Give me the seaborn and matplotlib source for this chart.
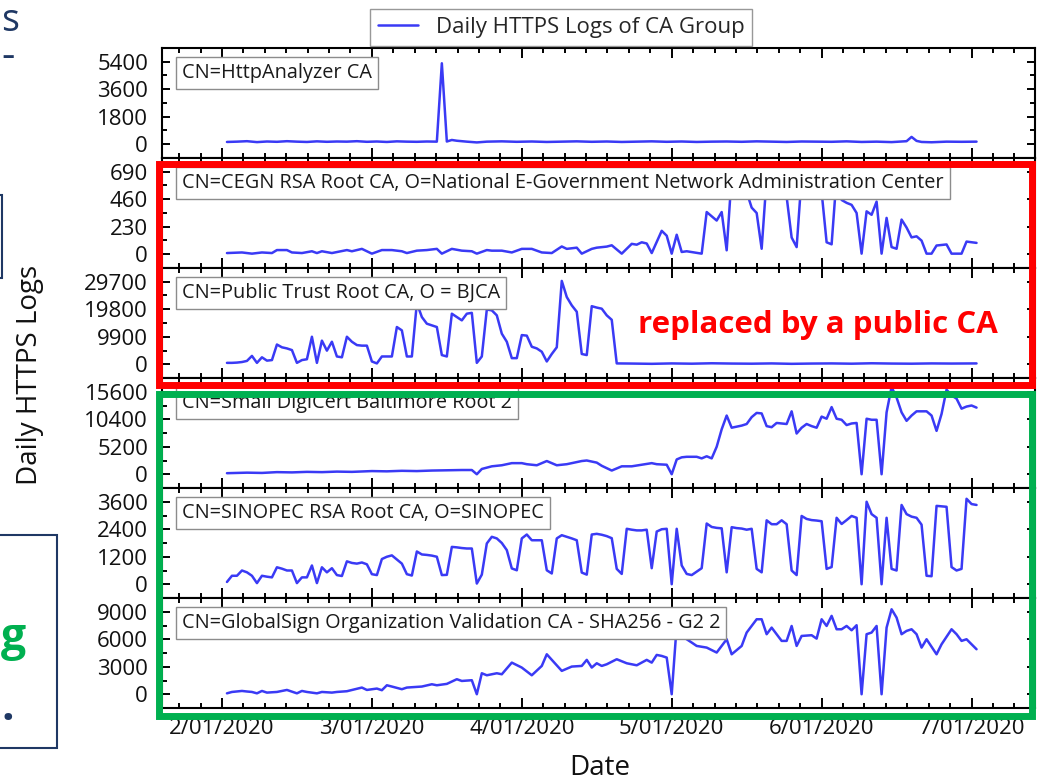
import matplotlib
matplotlib.use("Agg")
import matplotlib.pyplot as plt
import seaborn as sns
from matplotlib.ticker import MultipleLocator
from matplotlib.patches import Rectangle
from matplotlib.lines import Line2D

# ---------------- data ----------------
tick_days = [0, 30, 60, 90, 120, 150]
tick_labels = ["2/01/2020", "3/01/2020", "4/01/2020", "5/01/2020", "6/01/2020", "7/01/2020"]
legend_label = "Daily HTTPS Logs of CA Group"

ca_names = [
    "CN=HttpAnalyzer CA",
    "CN=CEGN RSA Root CA, O=National E-Government Network Administration Center",
    "CN=Public Trust Root CA, O = BJCA",
    "CN=Small DigiCert Baltimore Root 2",
    "CN=SINOPEC RSA Root CA, O=SINOPEC",
    "CN=GlobalSign Organization Validation CA - SHA256 - G2 2",
]
y_steps = [1800, 230, 9900, 5200, 1200, 3000]

http_days = [1, 3, 5, 7, 9, 11, 13, 15, 17, 19,
             21, 23, 25, 27, 29, 31, 33, 35, 37, 39,
             41, 43, 44, 45, 46, 47, 49, 51, 53, 56,
             59, 62, 65, 68, 71, 74, 77, 80, 83, 86,
             89, 92, 95, 98, 101, 104, 107, 110, 113, 116,
             119, 122, 125, 128, 131, 134, 136, 137, 138, 139,
             140, 142, 145, 148, 151]
http_vals = [150, 170, 200, 140, 180, 160, 200, 170, 150, 190,
             160, 180, 170, 200, 160, 180, 150, 190, 170, 160,
             180, 170, 5300, 180, 280, 230, 170, 120, 170, 190,
             160, 180, 150, 170, 190, 160, 180, 150, 170, 190,
             160, 180, 150, 170, 180, 160, 190, 170, 150, 180,
             170, 160, 190, 150, 170, 140, 180, 200, 480, 220,
             150, 130, 170, 160, 170]

cegn_days = [1, 4, 6, 8, 10, 11, 13, 14, 16, 18,
             19, 20, 22, 25, 26, 28, 30, 32, 34, 36,
             37, 39, 41, 43, 44, 46, 48, 50, 51, 53,
             54, 56, 58, 60, 62, 64, 66, 68, 69, 71,
             72, 74, 75, 77, 78, 80, 82, 83, 84, 85,
             86, 88, 89, 90, 91, 92, 93, 96, 97, 99,
             100, 101, 102, 103, 104, 105, 106, 107, 108, 109,
             110, 111, 112, 113, 114, 115, 116, 117, 118, 119,
             120, 121, 122, 123, 124, 125, 126, 127, 128, 129,
             130, 131, 132, 133, 134, 135, 136, 137, 138, 139,
             140, 141, 142, 143, 145, 146, 148, 149, 151]
cegn_vals = [10, 15, 5, 15, 10, 35, 35, 15, 10, 25,
             10, 25, 10, 35, 25, 45, 5, 35, 35, 25,
             10, 30, 35, 45, 5, 45, 30, 25, 5, 35,
             30, 30, 15, 45, 45, 15, 10, 65, 45, 55,
             5, 45, 55, 64, 75, 5, 87, 80, 100, 90,
             10, 196, 155, 5, 163, 19, 25, 5, 353, 282,
             353, 33, 660, 690, 650, 520, 390, 345, 46, 640,
             700, 680, 660, 480, 140, 60, 650, 700, 680, 690,
             520, 100, 83, 650, 454, 430, 413, 345, 5, 359,
             330, 440, 5, 304, 60, 46, 290, 223, 141, 150,
             114, 5, 5, 73, 82, 5, 5, 106, 95]

bjca_days = list(range(1, 80)) + [82, 86, 90, 94, 98, 102, 106, 110, 114, 118,
                                  122, 126, 130, 134, 138, 142, 146, 151]
bjca_vals = [500, 500, 600, 800, 1200, 3000, 500, 2500, 1300, 1500,
             7100, 6100, 5700, 5100, 500, 1500, 1800, 9900, 500, 8500,
             4900, 8100, 2800, 2500, 9900, 8100, 6900, 6700, 6700, 1000,
             300, 2800, 2800, 2800, 13400, 12200, 2800, 2800, 22000, 17000,
             14600, 14000, 13400, 3300, 2800, 18200, 17000, 15800, 18200, 18500,
             500, 2800, 19700, 19400, 17600, 11000, 8100, 2200, 2200, 10500,
             10300, 6300, 5700, 4500, 1000, 3700, 6100, 30000, 24200, 21200,
             18900, 3700, 3300, 20900, 20400, 20000, 17600, 16000, 300,
             250, 150, 300, 200, 350, 250, 200, 300, 150, 250,
             300, 200, 350, 250, 200, 300, 250, 300]

digi_days = [1, 5, 8, 11, 14, 17, 20, 23, 26, 30,
             33, 36, 39, 42, 45, 48, 50, 51, 52, 54,
             56, 58, 60, 61, 63, 65, 67, 69, 70, 72,
             73, 75, 76, 78, 80, 82, 84, 86, 87, 89,
             90, 91, 92, 93, 95, 96, 97, 98, 99, 100] + list(range(101, 152))
digi_vals = [200, 300, 250, 400, 350, 450, 400, 500, 450, 600,
             550, 650, 600, 700, 750, 800, 800, 0, 1000, 1500,
             1700, 2100, 2100, 1900, 1700, 2500, 1700, 1900, 2100, 2500,
             2600, 2200, 1600, 700, 1500, 1500, 1800, 2100, 1900, 1800,
             0, 2800, 3200, 3300, 3300, 3000, 3400, 3000, 5200, 8500,
             11100, 8800, 9000, 9200, 9500, 10800, 11600, 11500, 9100, 8900,
             9700, 9600, 9500, 11900, 7700, 8800, 9500, 9100, 8800, 10900,
             10500, 12700, 10500, 10300, 9300, 9600, 9700, 0, 10500, 10300,
             10300, 0, 11700, 16500, 14500, 11700, 10100, 11100, 11900, 11900,
             11900, 11100, 8200, 11400, 16000, 14900, 14300, 12400, 12800, 13000,
             12600]

sino_days = list(range(1, 152))
sino_vals = [100, 370, 370, 600, 520, 370, 50, 370, 330, 300,
             740, 680, 600, 600, 50, 300, 300, 820, 50, 740,
             520, 700, 400, 360, 1000, 930, 900, 950, 870, 440,
             400, 1100, 1200, 1260, 1080, 900, 440, 380, 1430, 1300,
             1280, 1250, 1200, 400, 410, 1630, 1610, 1580, 1560, 1560,
             30, 420, 1780, 2070, 2000, 1800, 1490, 690, 610, 2000,
             2170, 1920, 1920, 1920, 610, 470, 2000, 2140, 2070, 2000,
             1920, 510, 420, 2170, 2200, 2160, 2100, 2010, 670, 450,
             2420, 2380, 2350, 2350, 2380, 700, 2300, 2400, 2420, 0,
             2420, 820, 450, 400, 550, 700, 2650, 2500, 2460, 2440,
             520, 2490, 2450, 2430, 2380, 2420, 670, 520, 2790, 2620,
             2620, 2790, 2620, 600, 400, 2980, 2850, 2800, 2780, 2750,
             670, 750, 2900, 2630, 2800, 2980, 2900, 0, 3600, 3060,
             2900, 0, 2900, 670, 600, 3460, 3060, 2950, 2900, 2600,
             370, 350, 3420, 3400, 3380, 750, 600, 670, 3730, 3500,
             3460]

gs_days = [1, 2, 4, 5, 6, 7, 8, 9, 11, 13,
           15, 16, 17, 19, 20, 22, 23, 25, 28, 29,
           31, 32, 33, 34, 36, 37, 40, 42, 43, 45,
           47, 48, 50, 51, 52, 53, 55, 56, 58, 60,
           62, 64, 65, 68, 70, 72, 73, 74, 75, 76,
           77, 79, 81, 83, 85, 86, 87, 88, 89, 90,
           91, 92, 94, 95, 97, 99, 101, 102, 104, 105,
           107, 108, 109, 110, 112, 113, 114, 115, 116, 118,
           119, 120, 121, 122, 123, 124, 125, 126, 127, 128,
           129, 130, 131, 132, 133, 134, 135, 136, 137, 138,
           139, 140, 141, 143, 144, 146, 147, 148, 149, 151]
gs_vals = [100, 250, 360, 300, 250, 100, 360, 180, 250, 470,
           100, 360, 250, 100, 250, 180, 250, 330, 730, 470,
           620, 440, 980, 840, 550, 730, 840, 1090, 980, 1130,
           1640, 1450, 1530, 0, 2290, 2070, 2290, 2180, 3450, 2910,
           2070, 3090, 4360, 2550, 3020, 3090, 3750, 2910, 3380, 3090,
           3270, 3820, 3380, 3160, 3750, 3450, 4290, 4180, 4000, 0,
           7500, 6360, 5640, 5270, 5090, 4550, 6000, 4360, 5270, 6730,
           8180, 8180, 6550, 7270, 5820, 5820, 7450, 5270, 6360, 6440,
           6070, 8180, 7450, 8550, 7090, 7090, 7450, 6980, 7530, 0,
           6550, 6730, 7450, 0, 7270, 9270, 8360, 6550, 6910, 7090,
           6550, 5090, 6000, 4360, 5450, 7090, 6550, 5820, 6000, 4910]

series_days = [http_days, cegn_days, bjca_days, digi_days, sino_days, gs_days]
series_vals = [http_vals, cegn_vals, bjca_vals, digi_vals, sino_vals, gs_vals]

# ---------------- style ----------------
LINE = "#3a3af5"
NAVY = "#1f3864"
W, H = 1050, 782

sns.set_style("ticks")
plt.rcParams["font.family"] = ["Open Sans", "DejaVu Sans"]
plt.rcParams["axes.linewidth"] = 1.5

fig, axes = plt.subplots(6, 1, figsize=(W / 100, H / 100), dpi=100, sharex=True,
                         gridspec_kw={"hspace": 0})
fig.subplots_adjust(left=162 / W, right=1035 / W, top=1 - 48 / H, bottom=1 - 708 / H)

for ax, name, step, d, v in zip(axes, ca_names, y_steps, series_days, series_vals):
    sns.lineplot(x=d, y=v, ax=ax, color=LINE, linewidth=1.8, estimator=None)
    ax.set_ylim(-step / 2, 3.5 * step)
    ax.set_yticks([0, step, 2 * step, 3 * step])
    ax.yaxis.set_minor_locator(MultipleLocator(step / 2))
    ax.set_xlim(-12, 162.7)
    ax.set_xticks(tick_days)
    ax.xaxis.set_minor_locator(MultipleLocator(30 / 7))
    ax.tick_params(which="both", direction="in", top=True, right=True, width=1.4, color="black")
    ax.tick_params(axis="x", which="major", length=7)
    ax.tick_params(axis="x", which="minor", length=3.8)
    ax.tick_params(axis="y", which="major", length=5.5)
    ax.tick_params(axis="y", which="minor", length=3.8)
    ax.tick_params(axis="y", labelsize=16, pad=10, labelcolor="#111111")
    ax.tick_params(axis="x", labelsize=16, pad=7, labelcolor="#111111")
    for sp in ax.spines.values():
        sp.set_linewidth(1.5)
        sp.set_color("black")
    ax.set_xlabel("")
    ax.set_ylabel("")
    ax.annotate(name, xy=(0, 1), xycoords="axes fraction", xytext=(20, -15),
                textcoords="offset pixels", ha="left", va="top", fontsize=14.3,
                color="#1a1a1a", zorder=5,
                bbox=dict(boxstyle="square,pad=0.3", fc="white", ec="#8c8c8c", lw=1.0))

axes[-1].set_xticklabels(tick_labels)

# legend
handle = Line2D([], [], color=LINE, lw=1.8)
leg = fig.legend([handle], [legend_label], loc="upper center",
                 bbox_to_anchor=(561 / W, 1 - 9 / H), frameon=True, fancybox=False,
                 edgecolor="#7f7f7f", fontsize=16, handlelength=1.8, handletextpad=0.8,
                 borderpad=0.35, borderaxespad=0)
leg.get_frame().set_linewidth(1.0)

# axis titles
fig.text(30 / W, 1 - 375 / H, "Daily HTTPS Logs", rotation=90, ha="center", va="center",
         fontsize=20, color="#111111")
fig.text(600 / W, 1 - 768 / H, "Date", ha="center", va="center", fontsize=20, color="#111111")

# highlight rectangles
def frect(x0, y0, x1, y1, color):
    fig.add_artist(Rectangle((x0 / W, 1 - y1 / H), (x1 - x0) / W, (y1 - y0) / H,
                             transform=fig.transFigure, fill=False, ec=color, lw=5, zorder=10))

frect(159, 164, 1032, 385, "#ff0000")
frect(159, 394, 1032, 716, "#00b050")

fig.text(818 / W, 1 - 325 / H, "replaced by a public CA", ha="center", va="center",
         fontsize=22.5, fontweight="bold", color="#ff0000", zorder=11)

# slide fragments at the left edge
fig.text(1 / W, 1 - 31 / H, "s", ha="left", va="baseline", fontsize=27, color=NAVY)
fig.text(1 / W, 1 - 57 / H, "-", ha="left", va="center", fontsize=30, color=NAVY)
fig.add_artist(Rectangle((-10 / W, 1 - 278 / H), 12 / W, 83 / H, transform=fig.transFigure,
                         fill=False, ec=NAVY, lw=1.5))
fig.add_artist(Rectangle((-10 / W, 1 - 748 / H), 67 / W, 213 / H, transform=fig.transFigure,
                         fill=False, ec=NAVY, lw=1.5))
fig.text(1 / W, 1 - 650 / H, "g", ha="left", va="baseline", fontsize=32,
         fontweight="bold", color="#00b050")
fig.text(1 / W, 1 - 720 / H, ".", ha="left", va="baseline", fontsize=32,
         fontweight="bold", color=NAVY)

fig.savefig("out.png", dpi=100)
